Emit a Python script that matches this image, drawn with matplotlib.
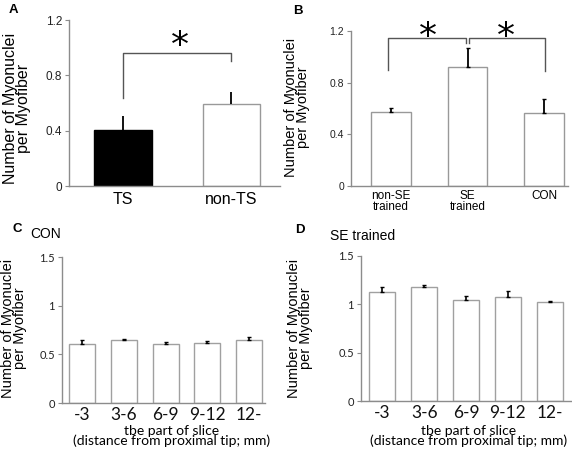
import matplotlib
matplotlib.use("Agg")
from matplotlib import pyplot as plt
import numpy as np

# panel A
a_groups = ["TS", "non-TS"]
a_mean = [0.405, 0.59]
a_err = [0.10, 0.09]

# panel B
b_groups = ["non-SE\ntrained", "SE\ntrained", "CON"]
b_mean = [0.57, 0.924, 0.563]
b_err = [0.035, 0.142, 0.11]

# panels C and D
slices = ["-3", "3-6", "6-9", "9-12", "12-"]
c_mean = [0.604, 0.646, 0.608, 0.62, 0.646]
c_err = [0.045, 0.012, 0.017, 0.02, 0.031]
d_mean = [1.124, 1.18, 1.041, 1.078, 1.02]
d_err = [0.056, 0.015, 0.044, 0.062, 0.017]

ylab = "Number of Myonuclei\nper Myofiber"
xlab = "tbe part of slice\n(distance from proximal tip; mm)"
axgray = "#8c8c8c"
arial = "Liberation Sans"
calib = "Lato"

fig = plt.figure(figsize=(5.72, 4.49), dpi=100)


def style(ax, font, tsize):
    for s in ["top", "right"]:
        ax.spines[s].set_visible(False)
    for s in ["left", "bottom"]:
        ax.spines[s].set_color(axgray)
        ax.spines[s].set_linewidth(1.0)
    ax.tick_params(axis="y", length=3, width=0.8, color=axgray, pad=2,
                   labelsize=tsize, labelcolor="#222222")
    ax.tick_params(axis="x", length=0)
    for t in ax.get_yticklabels():
        t.set_fontfamily(font)


# ---- A ----
axA = fig.add_axes([0.1206, 0.5857, 0.369, 0.3697])
xa = np.arange(len(a_groups))
axA.bar(xa, a_mean, width=0.53, color=["black", "white"],
        edgecolor=["black", "#999999"], linewidth=1.0)
axA.errorbar(xa, a_mean, yerr=[np.zeros(2), a_err], fmt="none",
             ecolor="black", elinewidth=1.3, capsize=0)
axA.set_xlim(-0.5, 1.45)
axA.set_ylim(0, 1.2)
axA.set_yticks([0, 0.4, 0.8, 1.2])
axA.set_yticklabels(["0", "0.4", "0.8", "1.2"])
axA.set_xticks(xa)
axA.set_xticklabels(a_groups, fontsize=11.5, fontfamily=arial)
axA.tick_params(axis="x", pad=4)
style(axA, arial, 8.5)
axA.plot([0, 0, 1, 1], [0.636, 0.961, 0.961, 0.904], color="#555555", lw=1.0)
axA.text(0.525, 1.012, "*", fontsize=26, ha="center", va="center",
         fontfamily="DejaVu Sans", clip_on=False)

# ---- B ----
axB = fig.add_axes([0.6136, 0.5857, 0.3794, 0.3452])
xb = np.arange(len(b_groups))
axB.bar(xb, b_mean, width=0.52, color="white", edgecolor="#999999", linewidth=1.0)
axB.errorbar(xb, b_mean, yerr=[np.zeros(3), b_err], fmt="none",
             ecolor="black", elinewidth=1.3, capsize=1.2)
axB.set_xlim(-0.52, 2.31)
axB.set_ylim(0, 1.2)
axB.set_yticks([0, 0.4, 0.8, 1.2])
axB.set_yticklabels(["0", "0.4", "0.8", "1.2"])
axB.set_xticks(xb)
axB.set_xticklabels(b_groups, fontsize=8.5, fontfamily=arial, linespacing=0.9)
axB.tick_params(axis="x", pad=3)
style(axB, arial, 7.5)
axB.plot([-0.04, -0.04, 0.98, 0.98], [0.898, 1.146, 1.146, 1.107],
         color="#555555", lw=1.0, clip_on=False)
axB.plot([1.02, 1.02, 2.01, 2.01], [1.107, 1.146, 1.146, 0.89],
         color="#555555", lw=1.0, clip_on=False)
for sx in [0.48, 1.5]:
    axB.text(sx, 1.154, "*", fontsize=26, ha="center", va="center",
             fontfamily="DejaVu Sans", clip_on=False)

# ---- C and D ----
def slice_panel(rect, means, errs, left, right):
    ax = fig.add_axes(rect)
    xs = np.arange(len(slices))
    ax.bar(xs, means, width=0.62, color="white", edgecolor="#a0a0a0", linewidth=1.0)
    ax.errorbar(xs, means, yerr=[np.zeros(len(xs)), errs], fmt="none",
                ecolor="black", elinewidth=1.2, capsize=1.5, capthick=1.0)
    ax.set_xlim(left, right)
    ax.set_ylim(0, 1.5)
    ax.set_yticks([0, 0.5, 1, 1.5])
    ax.set_yticklabels(["0", "0.5", "1", "1.5"])
    ax.set_xticks(xs)
    ax.set_xticklabels(slices, fontsize=12.5, fontfamily=calib, color="#111111")
    ax.tick_params(axis="x", pad=3)
    style(ax, calib, 8)
    return ax


axC = slice_panel([0.1084, 0.1024, 0.355, 0.3252], c_mean, c_err, -0.48, 4.38)
axD = slice_panel([0.6311, 0.1069, 0.367, 0.323], d_mean, d_err, -0.51, 4.51)

# y labels
fig.text(17 / 572, 1 - 108 / 449, ylab, rotation=90, ha="center", va="center",
         fontsize=11.5, fontfamily=arial, linespacing=0.9)
fig.text(297 / 572, 1 - 107 / 449, ylab, rotation=90, ha="center", va="center",
         fontsize=10.5, fontfamily=arial, linespacing=0.9)
fig.text(14 / 572, 1 - 328 / 449, ylab, rotation=90, ha="center", va="center",
         fontsize=10.5, fontfamily=arial, linespacing=0.9)
fig.text(300 / 572, 1 - 328 / 449, ylab, rotation=90, ha="center", va="center",
         fontsize=10.5, fontfamily=arial, linespacing=0.9)

# x labels of C and D: two tightly packed lines as in the source
for cx in [172, 469]:
    fig.text(cx / 572, 1 - 447 / 449, xlab, ha="center", va="bottom",
             multialignment="center", fontsize=10, fontfamily=calib,
             linespacing=0.72)

# panel letters and titles
fig.text(13 / 572, 1 - 10 / 449, "A", fontsize=9.5, fontweight="bold",
         fontfamily=arial, ha="center", va="center")
fig.text(298 / 572, 1 - 11 / 449, "B", fontsize=9.5, fontweight="bold",
         fontfamily=arial, ha="center", va="center")
fig.text(17 / 572, 1 - 229 / 449, "C", fontsize=9.5, fontweight="bold",
         fontfamily=arial, ha="center", va="center")
fig.text(300 / 572, 1 - 230 / 449, "D", fontsize=9.5, fontweight="bold",
         fontfamily=arial, ha="center", va="center")
fig.text(46 / 572, 1 - 234 / 449, "CON", fontsize=10, fontfamily=arial,
         ha="center", va="center")
fig.text(330 / 572, 1 - 236 / 449, "SE trained", fontsize=10, fontfamily=arial,
         ha="left", va="center")

fig.savefig("out.png", dpi=100)
